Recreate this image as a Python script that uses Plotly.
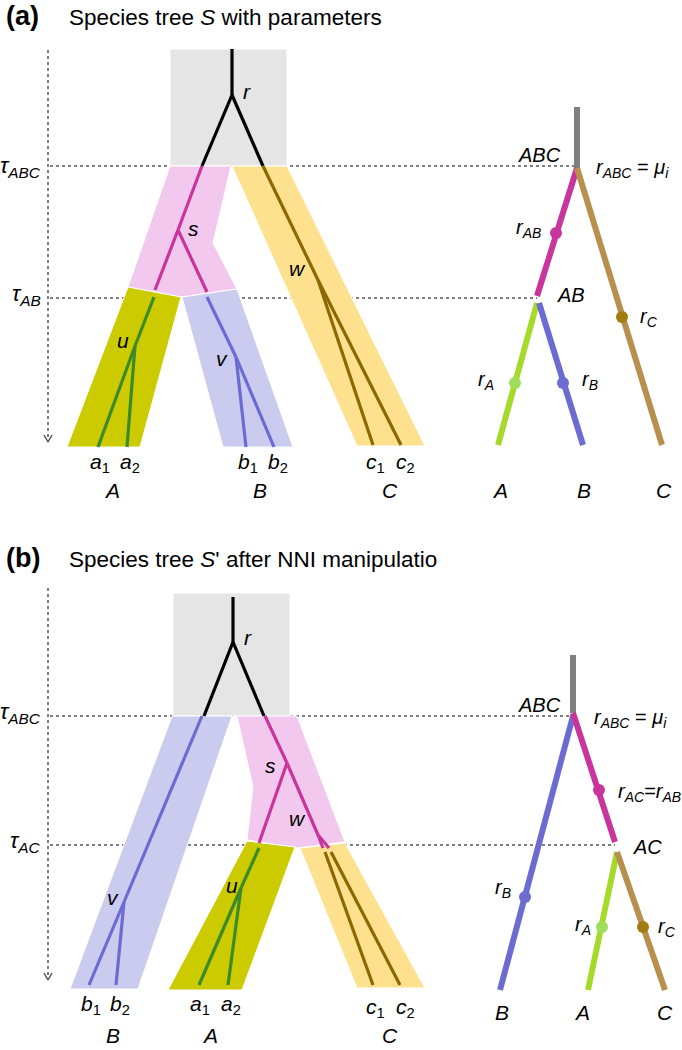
import plotly.graph_objects as go

# ---------------- data (diagram geometry, pixel space, y downward) ----------------
# Panel (a)
GREY_A_X = [170, 287, 287, 170]
GREY_A_Y = [49, 49, 166, 166]
PINK_A_X = [170, 231, 213, 237, 181, 128]
PINK_A_Y = [166, 166, 243, 289, 297, 287]
OLIVE_A_X = [128, 181, 140, 67]
OLIVE_A_Y = [287, 297, 447, 447]
BLUE_A_X = [182, 237, 293, 223]
BLUE_A_Y = [297, 289, 447, 447]
YELLOW_A_X = [232, 287, 425, 357]
YELLOW_A_Y = [166, 166, 446, 446]

# gene-tree segments (x0, y0, x1, y1)
BLACK_A = [(232, 49, 232, 95), (232, 95, 202, 166), (232, 95, 263, 166)]
MAGENTA_A = [(202, 166, 178, 230), (178, 230, 155, 290), (178, 230, 207, 292)]
GREEN_A = [(154, 297, 135, 346), (135, 346, 98, 447), (135, 346, 127, 447)]
BLUEL_A = [(207, 297, 236, 357), (236, 357, 246, 447), (236, 357, 274, 447)]
BROWN_A = [(263, 166, 318, 280), (318, 280, 373, 445), (318, 280, 401, 445)]

# species tree (right) panel (a)
ST_A_GREY = (577, 107, 577, 168)
ST_A_MAG = (577, 168, 537, 296)
ST_A_LIME = (537, 303, 498, 445)
ST_A_BLUE = (539, 303, 583, 445)
ST_A_TAN = (577, 168, 662, 445)
DOTS_A_X = [556, 515, 563, 622]
DOTS_A_Y = [233, 383, 383, 317]

# Panel (b)
GREY_B_X = [173, 290, 290, 173]
GREY_B_Y = [593, 593, 716, 716]
BLUE_B_X = [172, 232, 138, 70]
BLUE_B_Y = [716, 716, 989, 989]
PINK_B_X = [237, 297, 345, 297, 247, 253]
PINK_B_Y = [716, 716, 842, 848, 840, 787]
OLIVE_B_X = [247, 295, 242, 168]
OLIVE_B_Y = [841, 847, 990, 990]
YELLOW_B_X = [300, 345, 425, 357]
YELLOW_B_Y = [848, 843, 988, 988]

BLACK_B = [(233, 597, 233, 642), (233, 642, 204, 716), (233, 642, 264, 716)]
BLUEL_B = [(202, 716, 124, 902), (124, 902, 89, 985), (124, 902, 116, 985)]
MAGENTA_B = [(265, 716, 287, 763), (287, 763, 259, 843), (287, 763, 318, 835),
             (318, 835, 323, 848), (318, 835, 329, 848)]
GREEN_B = [(259, 848, 241, 888), (241, 888, 199, 985), (241, 888, 228, 985)]
BROWN_B = [(325, 852, 373, 985), (331, 852, 400, 985)]

ST_B_GREY = (573, 655, 573, 713)
ST_B_BLUE = (573, 716, 500, 990)
ST_B_MAG = (573, 713, 615, 842)
ST_B_LIME = (617, 852, 588, 990)
ST_B_TAN = (617, 852, 665, 990)
DOTS_B_X = [525, 599, 602, 643]
DOTS_B_Y = [897, 790, 927, 927]

# dotted time lines (x0, y0, x1, y1)
DOTTED = [(50, 166, 576, 166), (50, 298, 537, 298),
          (50, 716, 573, 716), (50, 845, 615, 845),
          (48, 50, 48, 441), (48, 588, 48, 979)]
ARROWS = [(48, 442), (48, 980)]

# ---------------- colours ----------------
C_GREY = "#e5e5e5"
C_PINK = "#f3c8ee"
C_OLIVE = "#cbcb00"
C_BLUEF = "#cbcbf0"
C_YELLOW = "#fde18f"
C_MAG = "#c8359c"
C_GREEN = "#3c8a2a"
C_BLUEL = "#6b6bd2"
C_BROWN = "#8b6800"
C_TAN = "#b8904e"
C_LIME = "#a6da2a"
C_STUB = "#808080"

FONT = "Liberation Sans, Arial, sans-serif"

fig = go.Figure()


def seg(s, color, width, dash=None):
    x0, y0, x1, y1 = s
    fig.add_trace(go.Scatter(x=[x0, x1], y=[y0, y1], mode="lines",
                             line=dict(color=color, width=width, dash=dash),
                             hoverinfo="skip", showlegend=False))


def poly(xs, ys, color):
    fig.add_trace(go.Scatter(x=xs + [xs[0]], y=ys + [ys[0]], mode="lines",
                             fill="toself", fillcolor=color,
                             line=dict(color="white", width=1),
                             hoverinfo="skip", showlegend=False))


# dotted guide lines
for d in DOTTED:
    seg(d, "#555555", 1.5, "dot")
for ax, ay in ARROWS:
    fig.add_trace(go.Scatter(x=[ax - 4, ax, ax + 4], y=[ay - 7, ay, ay - 7], mode="lines",
                             line=dict(color="#555555", width=1.5),
                             hoverinfo="skip", showlegend=False))

# regions
poly(GREY_A_X, GREY_A_Y, C_GREY)
poly(PINK_A_X, PINK_A_Y, C_PINK)
poly(OLIVE_A_X, OLIVE_A_Y, C_OLIVE)
poly(BLUE_A_X, BLUE_A_Y, C_BLUEF)
poly(YELLOW_A_X, YELLOW_A_Y, C_YELLOW)
poly(GREY_B_X, GREY_B_Y, C_GREY)
poly(BLUE_B_X, BLUE_B_Y, C_BLUEF)
poly(PINK_B_X, PINK_B_Y, C_PINK)
poly(OLIVE_B_X, OLIVE_B_Y, C_OLIVE)
poly(YELLOW_B_X, YELLOW_B_Y, C_YELLOW)

# gene trees
LW = 3.2
for group, col in [(BLACK_A, "black"), (MAGENTA_A, C_MAG), (GREEN_A, C_GREEN),
                   (BLUEL_A, C_BLUEL), (BROWN_A, C_BROWN),
                   (BLACK_B, "black"), (MAGENTA_B, C_MAG), (GREEN_B, C_GREEN),
                   (BLUEL_B, C_BLUEL), (BROWN_B, C_BROWN)]:
    for s in group:
        seg(s, col, LW)

# species trees
SW = 6
for s, col in [(ST_A_GREY, C_STUB), (ST_A_MAG, C_MAG), (ST_A_LIME, C_LIME),
               (ST_A_BLUE, C_BLUEL), (ST_A_TAN, C_TAN),
               (ST_B_GREY, C_STUB), (ST_B_BLUE, C_BLUEL), (ST_B_MAG, C_MAG),
               (ST_B_LIME, C_LIME), (ST_B_TAN, C_TAN)]:
    seg(s, col, SW)

DOT_COLS_A = [C_MAG, "#9ede5c", C_BLUEL, "#a27c10"]
DOT_COLS_B = [C_BLUEL, C_MAG, "#9ede5c", "#a27c10"]
fig.add_trace(go.Scatter(x=DOTS_A_X, y=DOTS_A_Y, mode="markers",
                         marker=dict(size=12, color=DOT_COLS_A, line=dict(width=0)),
                         hoverinfo="skip", showlegend=False))
fig.add_trace(go.Scatter(x=DOTS_B_X, y=DOTS_B_Y, mode="markers",
                         marker=dict(size=12, color=DOT_COLS_B, line=dict(width=0)),
                         hoverinfo="skip", showlegend=False))

# ---------------- text ----------------
anns = []
LS = 21  # label size


def txt(x, y, t, size=LS, xa="center", ya="middle"):
    anns.append(dict(x=x, y=y, text=t, showarrow=False, xanchor=xa, yanchor=ya,
                     font=dict(family=FONT, size=size, color="black")))


def it(s):
    return "<i>" + s + "</i>"


# titles
txt(4, 16, "<b>(a)</b>", 27, "left")
txt(67, 17, "Species tree " + it("S") + " with parameters", 22.5, "left")
txt(4, 558, "<b>(b)</b>", 27, "left")
txt(67, 559, "Species tree " + it("S") + "' after NNI manipulatio", 22.5, "left")

# time labels
tau = "<i>τ</i>"
txt(43, 167, tau + "<sub><i>ABC</i></sub>", 22, "right")
txt(43, 295, tau + "<sub><i>AB</i></sub>", 22, "right")
txt(43, 713, tau + "<sub><i>ABC</i></sub>", 22, "right")
txt(43, 842, tau + "<sub><i>AC</i></sub>", 22, "right")

# panel a gene-tree labels
txt(247, 91, it("r"))
txt(193, 228, it("s"))
txt(123, 340, it("u"))
txt(222, 358, it("v"))
txt(297, 268, it("w"))
txt(100, 463, it("a") + "<sub>1</sub>")
txt(130, 463, it("a") + "<sub>2</sub>")
txt(248, 463, it("b") + "<sub>1</sub>")
txt(278, 463, it("b") + "<sub>2</sub>")
txt(375, 463, it("c") + "<sub>1</sub>")
txt(405, 463, it("c") + "<sub>2</sub>")
txt(112, 490, it("A"))
txt(260, 490, it("B"))
txt(390, 490, it("C"))

# panel a species-tree labels
txt(563, 155, it("ABC"), 20, "right")
txt(594, 168, it("r") + "<sub><i>ABC</i></sub> = " + it("μ") + "<sub><i>i</i></sub>", 20, "left")
txt(543, 228, it("r") + "<sub><i>AB</i></sub>", 20, "right")
txt(555, 295, it("AB"), 20, "left")
txt(496, 380, it("r") + "<sub><i>A</i></sub>", 20, "right")
txt(580, 380, it("r") + "<sub><i>B</i></sub>", 20, "left")
txt(638, 317, it("r") + "<sub><i>C</i></sub>", 20, "left")
txt(500, 490, it("A"))
txt(584, 490, it("B"))
txt(664, 490, it("C"))

# panel b gene-tree labels
txt(248, 637, it("r"))
txt(270, 765, it("s"))
txt(297, 818, it("w"))
txt(113, 897, it("v"))
txt(232, 885, it("u"))
txt(91, 1005, it("b") + "<sub>1</sub>")
txt(120, 1005, it("b") + "<sub>2</sub>")
txt(200, 1005, it("a") + "<sub>1</sub>")
txt(231, 1005, it("a") + "<sub>2</sub>")
txt(375, 1008, it("c") + "<sub>1</sub>")
txt(405, 1008, it("c") + "<sub>2</sub>")
txt(113, 1035, it("B"))
txt(210, 1035, it("A"))
txt(390, 1035, it("C"))

# panel b species-tree labels
txt(563, 705, it("ABC"), 20, "right")
txt(592, 718, it("r") + "<sub><i>ABC</i></sub> = " + it("μ") + "<sub><i>i</i></sub>", 20, "left")
txt(616, 792, it("r") + "<sub><i>AC</i></sub>=" + it("r") + "<sub><i>AB</i></sub>", 20, "left")
txt(631, 847, it("AC"), 20, "left")
txt(513, 888, it("r") + "<sub><i>B</i></sub>", 20, "right")
txt(593, 925, it("r") + "<sub><i>A</i></sub>", 20, "right")
txt(656, 927, it("r") + "<sub><i>C</i></sub>", 20, "left")
txt(502, 1012, it("B"))
txt(582, 1012, it("A"))
txt(665, 1012, it("C"))

fig.update_layout(
    width=682, height=1050,
    margin=dict(l=0, r=0, t=0, b=0),
    paper_bgcolor="white", plot_bgcolor="white",
    xaxis=dict(range=[0, 682], visible=False, fixedrange=True),
    yaxis=dict(range=[1050, 0], visible=False, fixedrange=True),
    annotations=anns,
    showlegend=False,
)

fig.write_html("out.html", config={"displayModeBar": False},
               post_script="document.body.style.margin='0px';")
